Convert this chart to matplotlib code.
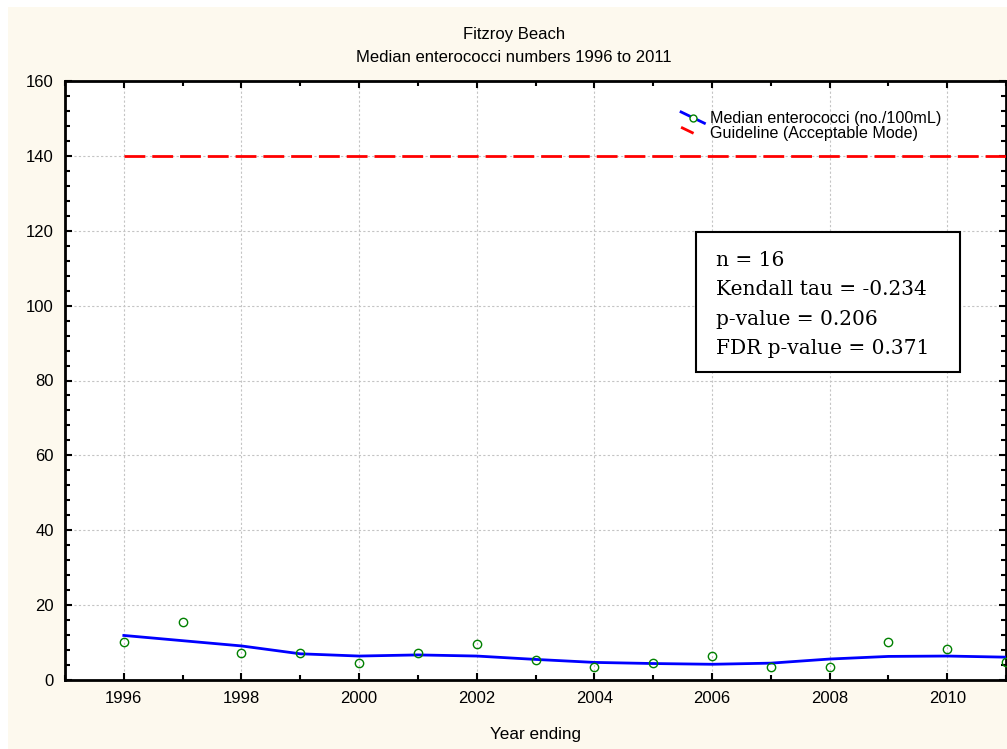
import matplotlib.pyplot as plt
from matplotlib.lines import Line2D
from matplotlib.legend_handler import HandlerBase
from matplotlib.patches import Rectangle

years = [1996, 1997, 1998, 1999, 2000, 2001, 2002, 2003,
         2004, 2005, 2006, 2007, 2008, 2009, 2010, 2011]
median_ent = [10.1, 15.6, 7.1, 7.1, 4.6, 7.1, 9.5, 5.3,
              3.4, 4.6, 6.5, 3.4, 3.4, 10.1, 8.3, 4.7]
smooth_ent = [11.9, 10.5, 9.1, 7.0, 6.4, 6.7, 6.4, 5.5,
              4.7, 4.4, 4.2, 4.5, 5.6, 6.3, 6.4, 6.1]
guide_years = [1996, 2011]
guide_val = [140, 140]
stats_lines = ["n = 16", "Kendall tau = -0.234", "p-value = 0.206", "FDR p-value = 0.371"]

plt.rcParams['font.family'] = ['Liberation Sans', 'DejaVu Sans']

W, H = 1007, 749


class DiagHandler(HandlerBase):
    # statistica style slanted legend keys
    def create_artists(self, legend, orig, xdescent, ydescent, width, height, fontsize, trans):
        x0, x1 = -xdescent, -xdescent + width
        y0, y1 = -ydescent + height * 0.95, -ydescent - height * 0.05
        ln = Line2D([x0, x1], [y0, y1])
        ln.update_from(orig)
        ln.set_marker("None")
        ln.set_transform(trans)
        arts = [ln]
        if orig.get_marker() not in (None, "None", ""):
            mk = Line2D([(x0 + x1) / 2], [(y0 + y1) / 2], marker=orig.get_marker(), linestyle="None",
                        markersize=orig.get_markersize(), markerfacecolor="white",
                        markeredgecolor=orig.get_markeredgecolor(), transform=trans)
            arts.append(mk)
        return arts


fig = plt.figure(figsize=(W / 100, H / 100), dpi=100)
fig.patch.set_facecolor("white")
fig.patches.append(Rectangle((8 / W, 0), 1 - 8 / W, 1 - 7 / H, transform=fig.transFigure,
                             facecolor="#fdf9ee", edgecolor="none", zorder=-10))

ax = fig.add_axes([65 / W, (H - 680) / H, (1006 - 65) / W, (680 - 81) / H])
ax.set_facecolor("white")

ax.plot(years, smooth_ent, color="blue", lw=2, zorder=3)
ax.plot(years, median_ent, linestyle="None", marker="o", markersize=6,
        markerfacecolor="none", markeredgecolor="green", markeredgewidth=1, zorder=4)
ax.plot(guide_years, guide_val, color="red", lw=2, dashes=(7.5, 2.5), zorder=3)

ax.set_xlim(1995, 2011)
ax.set_ylim(0, 160)
ax.set_xticks(range(1996, 2011, 2))
ax.set_xticks(range(1995, 2012, 1), minor=True)
ax.set_yticks(range(0, 161, 20))
ax.set_yticks(range(0, 161, 4), minor=True)
ax.grid(True, which="major", color="#c4c4c4", linestyle=(0, (2, 2)), linewidth=0.8)
ax.tick_params(which="both", direction="in", top=True, right=True, width=1.5,
               labelsize=12, pad=8)
ax.tick_params(which="major", length=5)
ax.tick_params(which="minor", length=3.5)
for s in ax.spines.values():
    s.set_linewidth(2)
ax.set_xlabel("Year ending", fontsize=12.3, labelpad=15)

h1 = Line2D([], [], color="blue", lw=2, marker="o", markersize=5, markeredgecolor="green")
h2 = Line2D([], [], color="red", lw=2, dashes=(5, 5))
ax.legend([h1, h2], ["Median enterococci (no./100mL)", "Guideline (Acceptable Mode)"],
          handler_map={h1: DiagHandler(), h2: DiagHandler()},
          loc="upper left", bbox_to_anchor=(0.641, 0.972), frameon=False,
          fontsize=11.6, handlelength=1.45, handleheight=0.7, handletextpad=0.35,
          labelspacing=0.02, borderpad=0.3)

# stats box
ax.add_patch(Rectangle((0.6706, 0.5142), 0.2805, 0.2337, transform=ax.transAxes,
                       facecolor="white", edgecolor="black", lw=1.5, zorder=5))
for i, line in enumerate(stats_lines):
    ax.text(0.6918, 0.6912 - i * 0.049, line, transform=ax.transAxes,
            family="DejaVu Serif", fontsize=14.5, va="baseline", ha="left", zorder=6)

fig.text(514 / W, 1 - 35 / H, "Fitzroy Beach", ha="center", va="center", fontsize=12)
fig.text(514 / W, 1 - 58 / H, "Median enterococci numbers 1996 to 2011", ha="center", va="center",
         fontsize=12)

fig.savefig("out.png", dpi=100)
